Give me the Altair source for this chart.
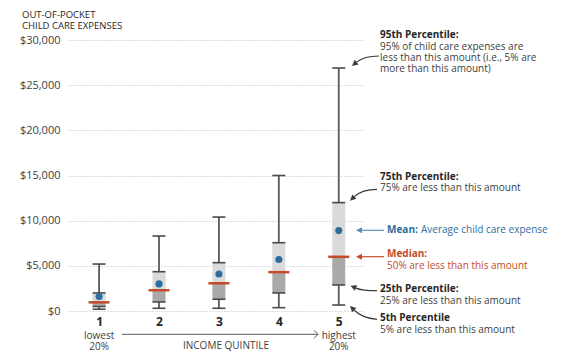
import math
import altair as alt
import pandas as pd

# ---------------- data ----------------
quintiles = [1, 2, 3, 4, 5]
p5 = [200, 300, 300, 370, 660]
p25 = [500, 1000, 1300, 2000, 2880]
median = [960, 2300, 3070, 4300, 6000]
mean = [1600, 3000, 4100, 5700, 8900]
p75 = [2000, 4350, 5350, 7560, 12000]
p95 = [5200, 8300, 10400, 15000, 26900]
sub_labels = ["lowest\n20%", "", "", "", "highest\n20%"]
y_ticks = [0, 5000, 10000, 15000, 20000, 25000, 30000]

df = pd.DataFrame(dict(q=quintiles, p5=p5, p25=p25, median=median,
                       mean=mean, p75=p75, p95=p95, sub=sub_labels))

# ---------------- style ----------------
FONT = "Open Sans"
DARK = "#262626"
TEXT = "#404040"
BLUE = "#2c6d9d"
RED = "#c24b2a"
BOX_LIGHT = "#dadada"
BOX_DARK = "#a9a9a9"
WHISK = "#595959"

W, H = 297, 271
OX, OY = 68, 40  # page position of plot origin


def px(x):
    return x - OX


def py(y):
    return y - OY


xs = alt.Scale(domain=[1 - 27 / 62, 1 + 270 / 62], nice=False, zero=False)
ys = alt.Scale(domain=[0, 30000], nice=False)
xaxis = alt.Axis(values=quintiles, format="d", title=None, grid=False, ticks=False,
                 domain=False, labelFontWeight="bold", labelFontSize=12,
                 labelColor=DARK, labelPadding=5, labelFont=FONT)
yaxis = alt.Axis(values=y_ticks, format="$,.0f", title=None, ticks=False, domain=False,
                 grid=True, gridDash=[1, 2], gridColor="#bdbdbd", gridWidth=1,
                 labelFontSize=11, labelColor=TEXT, labelPadding=8, labelFont=FONT)


def X(f="q"):
    return alt.X(f, type="quantitative", scale=xs, axis=xaxis)


def Y(f):
    return alt.Y(f, type="quantitative", scale=ys, axis=yaxis)


base = alt.Chart(df)

whisker = base.mark_rule(color=WHISK, strokeWidth=1.8).encode(
    x=X(), y=Y("p5"), y2="p95")
box_low = base.mark_bar(size=13, color=BOX_DARK).encode(
    x=X(), y=Y("p25"), y2="median")
box_high = base.mark_bar(size=13, color=BOX_LIGHT).encode(
    x=X(), y=Y("median"), y2="p75")
caps = base.transform_fold(["p5", "p25", "p75", "p95"], as_=["stat", "value"]).mark_tick(
    orient="horizontal", size=13, thickness=1.6, color="#4a4a4a", opacity=1).encode(
    x=X(), y=Y("value"))
med = base.mark_tick(orient="horizontal", size=21, thickness=2.5, color=RED, opacity=1).encode(
    x=X(), y=Y("median"))
avg = base.mark_circle(size=50, color=BLUE, opacity=1).encode(x=X(), y=Y("mean"))
subs = base.mark_text(font=FONT, fontSize=10, color=TEXT, lineBreak="\n", lineHeight=11,
                      baseline="top", align="center").encode(
    x=X(), y=alt.value(py(330.5)), text="sub:N")

one = pd.DataFrame({"_": [0]})
layers = [whisker, box_low, box_high, caps, med, avg, subs]


def text_layer(txt, x, y, bold=False, color=TEXT, size=10, align="left"):
    return alt.Chart(one).mark_text(
        text=txt, font=FONT, fontSize=size, fontWeight="bold" if bold else "normal",
        color=color, align=align, baseline="middle").encode(
        x=alt.value(px(x)), y=alt.value(py(y)))


annotations = [
    ("OUT-OF-POCKET", 22, 14.5, False, DARK, 9.5),
    ("CHILD CARE EXPENSES", 22, 25.5, False, DARK, 9.5),
    ("95th Percentile:", 380, 35, True, DARK, 10),
    ("95% of child care expenses are", 380, 46.7, False, TEXT, 10),
    ("less than this amount (i.e., 5% are", 380, 58, False, TEXT, 10),
    ("more than this amount)", 380, 69.3, False, TEXT, 10),
    ("75th Percentile:", 380, 176.7, True, DARK, 10),
    ("75% are less than this amount", 380, 188.3, False, TEXT, 10),
    ("Mean:", 387, 230.3, True, BLUE, 10),
    ("Average child care expense", 421, 230.3, False, BLUE, 10),
    ("Median:", 387, 253.5, True, RED, 10),
    ("50% are less than this amount", 387, 265.5, False, RED, 10),
    ("25th Percentile:", 380, 289, True, DARK, 10),
    ("25% are less than this amount", 380, 300.7, False, TEXT, 10),
    ("5th Percentile", 380, 318.3, True, DARK, 10),
    ("5% are less than this amount", 380, 330, False, TEXT, 10),
]
for t, x, y, b, c, s in annotations:
    layers.append(text_layer(t, x, y, b, c, s))

layers.append(text_layer("INCOME QUINTILE", 226, 346, False, TEXT, 10, "center"))


def arrow(tail, ctrl, tip, color, head_len=6.0, head_w=3.0, sw=1.2):
    if ctrl is None:
        ctrl = ((tail[0] + tip[0]) / 2, (tail[1] + tip[1]) / 2)
    dx, dy = tip[0] - ctrl[0], tip[1] - ctrl[1]
    d = math.hypot(dx, dy)
    ux, uy = dx / d, dy / d
    bx, by = tip[0] - ux * head_len, tip[1] - uy * head_len
    nx, ny = -uy, ux
    pts = [tail, ctrl, tip]
    cx = (min(p[0] for p in pts) + max(p[0] for p in pts)) / 2
    cy = (min(p[1] for p in pts) + max(p[1] for p in pts)) / 2
    s = max(max(abs(p[0] - cx) for p in pts), max(abs(p[1] - cy) for p in pts)) + 4

    def n(x, y):
        return f"{(x - cx) / s:.4f},{(y - cy) / s:.4f}"

    curve = f"M{n(*tail)}Q{n(*ctrl)} {n(bx, by)}"
    head = f"M{n(*tip)}L{n(bx + nx * head_w, by + ny * head_w)}L{n(bx - nx * head_w, by - ny * head_w)}Z"
    size = (2 * s) ** 2
    enc = dict(x=alt.value(px(cx)), y=alt.value(py(cy)))
    l1 = alt.Chart(one).mark_point(shape=curve, filled=False, stroke=color, color=color,
                                   strokeWidth=sw, size=size, opacity=1).encode(**enc)
    l2 = alt.Chart(one).mark_point(shape=head, filled=True, color=color, strokeWidth=0,
                                   size=size, opacity=1).encode(**enc)
    return [l1, l2]


ARROW = "#3a3a3a"
layers += arrow((379, 56), (364, 56), (352, 66), ARROW)
layers += arrow((377, 189.3), (362, 189.3), (350, 200.7), ARROW)
layers += arrow((384, 230.3), None, (356, 230.3), "#5b8fbc")
layers += arrow((384, 256.7), None, (356, 256.7), RED)
layers += arrow((377, 290.7), (362, 290.7), (350.5, 285.7), ARROW)
layers += arrow((377, 319.3), (362, 318), (350, 306), ARROW)

# income quintile axis arrow
layers.append(alt.Chart(one).mark_rule(color="#595959", strokeWidth=1).encode(
    x=alt.value(px(122)), x2=alt.value(px(318)), y=alt.value(py(334.3))))
layers.append(alt.Chart(one).mark_point(shape="M-1,-1L0,0L-1,1", filled=False, color="#595959",
                                        strokeWidth=1, size=64, opacity=1).encode(
    x=alt.value(px(318)), y=alt.value(py(334.3))))

TOTAL_H = 347
chart = alt.layer(*layers).properties(
    width=W, height=H,
    background="white",
    autosize=alt.AutoSizeParams(type="none"),
    padding={"left": OX - 8, "top": OY - 8, "right": 560 - (OX - 8) - W,
             "bottom": TOTAL_H - (OY - 8) - H},
).configure_view(strokeWidth=0)

chart.save("out.html", embed_options={"renderer": "svg", "actions": False})
